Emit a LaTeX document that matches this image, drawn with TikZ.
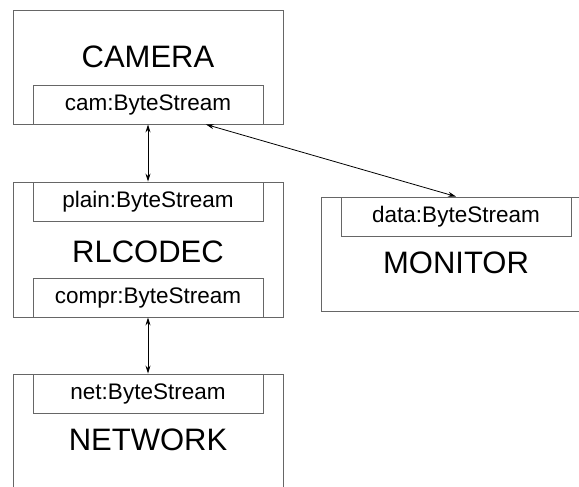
\documentclass[tikz,border=0pt]{standalone}
\usepackage{fontspec}
\setmainfont{Liberation Sans}
\usetikzlibrary{arrows.meta}

\begin{document}
\begin{tikzpicture}[x=1pt,y=-1pt,
	comp/.style={draw=black!60,line width=0.9pt,minimum width=270pt,minimum height=114pt,inner sep=0pt},
	port/.style={draw=black!60,line width=0.9pt,minimum width=230pt,minimum height=39pt,inner sep=0pt,font=\fontsize{22.5}{22.5}\selectfont},
	title/.style={font=\fontsize{31}{31}\selectfont},
	link/.style={line width=0.8pt,{Stealth[length=8pt,width=5pt]}-{Stealth[length=8pt,width=5pt]}}]
	\useasboundingbox (0,0) rectangle (579,487);
	% components
	\node[comp] (camera) at (148,67) {};
	\node[title] (cameraname) at (148,57) {CAMERA};
	\node[port,anchor=south] (cam) at (camera.south) {cam:ByteStream};
	\node[comp,minimum height=135pt] (rlcodec) at (148,249.5) {};
	\node[title] (rlcodecname) at (148,252) {RLCODEC};
	\node[port,anchor=north] (plain) at (rlcodec.north) {plain:ByteStream};
	\node[port,anchor=south] (compr) at (rlcodec.south) {compr:ByteStream};
	\node[comp,minimum height=135pt] (network) at (148,441.5) {};
	\node[title] (networkname) at (148,440) {NETWORK};
	\node[port,anchor=north] (net) at (network.north) {net:ByteStream};
	\node[comp] (monitor) at (456,254) {};
	\node[title] (monitorname) at (456,263) {MONITOR};
	\node[port,anchor=north] (data) at (monitor.north) {data:ByteStream};
	% connections
	\draw[link] (cam) -- (plain);
	\draw[link] (compr) -- (net);
	\draw[link] (cam.-19) -- (data.north);
\end{tikzpicture}
\end{document}
